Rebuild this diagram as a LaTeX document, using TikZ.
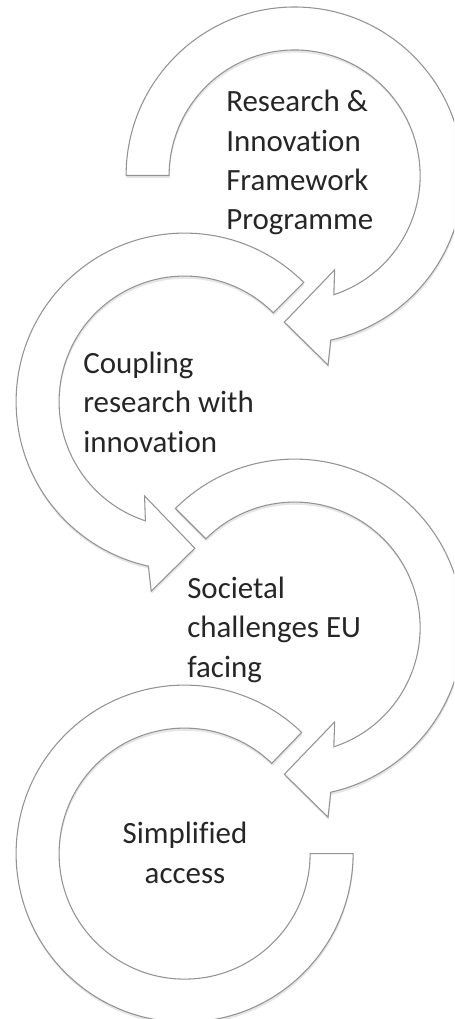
\documentclass[tikz,border=0pt]{standalone}
\usepackage{fontspec}
\setmainfont{Carlito}[Ligatures=NoCommon]
\usetikzlibrary{shadows}

\begin{document}
\begin{tikzpicture}[x=0.75pt,y=0.75pt,
		band/.style={draw=gray!85, line width=0.8pt, fill=white, line join=miter,
			drop shadow={shadow xshift=0.4pt, shadow yshift=-2pt, opacity=0.2}},
		steptext/.style={inner sep=0pt, text=black!85, font=\fontsize{23.2}{29.6}\selectfont}]
		% Page and clipping
		\useasboundingbox (0,0) rectangle (454,-1019);
		\clip (0,0) rectangle (454,-1019);
		% Radii of the bands
		\def\Ro{168.5}
		\def\Ri{125.5}
		\coordinate (c1) at (294.6,-175.5);
		\coordinate (c2) at (184.6,-401.6);
		\coordinate (c3) at (294.6,-627.6);
		\coordinate (c4) at (184.6,-853.6);
		% Clockwise arrows
		\foreach \c/\s in {c1/180, c3/135}
		\draw[band, shift={(\c)}] (\s:\Ro) arc[start angle=\s, end angle=-77.6, radius=\Ro]
		-- (-80:192.5) -- (-94:147) -- (-67:102.5) -- (-71.8:\Ri)
		arc[start angle=-71.8, end angle=\s, radius=\Ri] -- cycle;
		% Counter-clockwise arrow
		\draw[band, shift={(c2)}] (45:\Ro) arc[start angle=45, end angle=257.6, radius=\Ro]
		-- (260:192.5) -- (274:147) -- (247:102.5) -- (251.8:\Ri)
		arc[start angle=251.8, end angle=45, radius=\Ri] -- cycle;
		% Last band, no head
		\draw[band, shift={(c4)}] (46:\Ro) arc[start angle=46, end angle=360, radius=\Ro]
		-- (0:\Ri) arc[start angle=360, end angle=46, radius=\Ri] -- cycle;
		% Texts (anchored at the baseline of their last line)
		\node[steptext, anchor=base west, align=left] (frame) at (226,-230)
		{Research \&\\Innovation\\Framework\\Programme};
		\node[steptext, anchor=base west, align=left] (coupling) at (83,-452)
		{Coupling\\research with\\innovation};
		\node[steptext, anchor=base west, align=left] (societal) at (187,-677)
		{Societal\\challenges EU\\facing};
		\node[steptext, anchor=base, align=center] (access) at (185,-883)
		{Simplified\\access};
	\end{tikzpicture}
\end{document}
